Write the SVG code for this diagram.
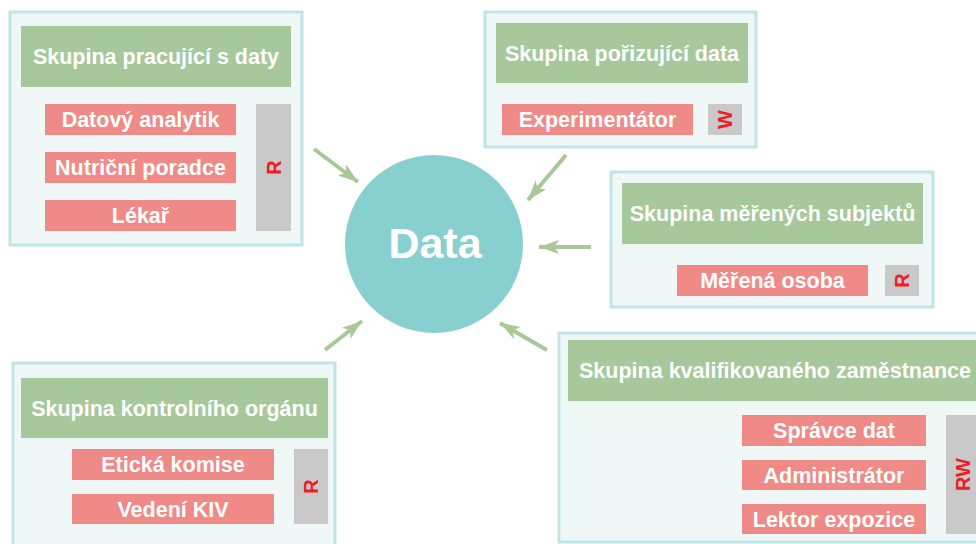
<svg xmlns="http://www.w3.org/2000/svg" width="976" height="544" viewBox="0 0 976 544">
<defs>
<style>
.grp{fill:#f0f8f7;stroke:#bfe5e5;stroke-width:3}
.hdr{fill:#a6c89a}
.role{fill:#f08a86}
.perm{fill:#c9c9c9}
.t{font-family:"Liberation Sans",Arial,sans-serif;font-weight:bold;fill:#ffffff;text-anchor:middle}
.h{font-size:21.5px}
.r{font-size:21.5px}
.p{font-family:"Liberation Sans",Arial,sans-serif;font-weight:bold;fill:#ee1c25;font-size:20px;text-anchor:middle}
.arr{stroke:#a8c898;stroke-width:4;fill:none}
</style>
<marker id="ah" markerUnits="userSpaceOnUse" markerWidth="22" markerHeight="16" refX="20" refY="7" orient="auto">
<path d="M0,0 L20,7 L0,14 L5,7 Z" fill="#a8c898"/>
</marker>
</defs>
<rect width="976" height="544" fill="#ffffff"/>

<g id="data">
<circle cx="434" cy="244" r="89" fill="#87d0cf"/>
<text class="t" x="435" y="258" font-size="43">Data</text>
</g>

<g id="connectors">
<line class="arr" x1="314" y1="149" x2="358" y2="182" marker-end="url(#ah)"/>
<line class="arr" x1="566" y1="155" x2="528" y2="200" marker-end="url(#ah)"/>
<line class="arr" x1="591" y1="247" x2="539" y2="247" marker-end="url(#ah)"/>
<line class="arr" x1="325" y1="350" x2="362" y2="321" marker-end="url(#ah)"/>
<line class="arr" x1="547" y1="350" x2="500" y2="323" marker-end="url(#ah)"/>
</g>

<g id="skupina-pracujici">
<rect class="grp" x="10" y="12" width="292" height="233"/>
<rect class="hdr" x="21" y="26" width="270" height="61"/>
<text class="t h" x="156" y="64">Skupina pracující s daty</text>
<rect class="role" x="45" y="104" width="191" height="31"/>
<text class="t r" x="140.5" y="127">Datový analytik</text>
<rect class="role" x="45" y="152" width="191" height="31"/>
<text class="t r" x="140.5" y="175">Nutriční poradce</text>
<rect class="role" x="45" y="200" width="191" height="31"/>
<text class="t r" x="140.5" y="223">Lékař</text>
<rect class="perm" x="256" y="104" width="35" height="127"/>
<text class="p" transform="translate(280.5,167.5) rotate(-90)">R</text>
</g>

<g id="skupina-porizujici">
<rect class="grp" x="485" y="12" width="271" height="135"/>
<rect class="hdr" x="496" y="23" width="252" height="60"/>
<text class="t h" x="622" y="61">Skupina pořizující data</text>
<rect class="role" x="502" y="104" width="191" height="31"/>
<text class="t r" x="597.5" y="127">Experimentátor</text>
<rect class="perm" x="708" y="104" width="34" height="31"/>
<text class="p" transform="translate(732,119.5) rotate(-90)">W</text>
</g>

<g id="skupina-merenych">
<rect class="grp" x="611" y="172" width="322" height="135"/>
<rect class="hdr" x="622" y="183" width="301" height="61"/>
<text class="t h" x="772.5" y="221">Skupina měřených subjektů</text>
<rect class="role" x="677" y="265" width="191" height="31"/>
<text class="t r" x="772.5" y="288">Měřená osoba</text>
<rect class="perm" x="885" y="265" width="34" height="31"/>
<text class="p" transform="translate(909,280.5) rotate(-90)">R</text>
</g>

<g id="skupina-kontrolniho">
<rect class="grp" x="13" y="363" width="322" height="200"/>
<rect class="hdr" x="21" y="378" width="307" height="60"/>
<text class="t h" x="174.5" y="416">Skupina kontrolního orgánu</text>
<rect class="role" x="72" y="449" width="202" height="31"/>
<text class="t r" x="173" y="472">Etická komise</text>
<rect class="role" x="72" y="494" width="202" height="30"/>
<text class="t r" x="173" y="516.5">Vedení KIV</text>
<rect class="perm" x="294" y="449" width="34" height="75"/>
<text class="p" transform="translate(318,486.5) rotate(-90)">R</text>
</g>

<g id="skupina-kvalifikovaneho">
<rect class="grp" x="559" y="333" width="440" height="209"/>
<rect class="hdr" x="568" y="340" width="414" height="61"/>
<text class="t h" x="775" y="378">Skupina kvalifikovaného zaměstnance</text>
<rect class="role" x="742" y="415" width="184" height="31"/>
<text class="t r" x="834" y="438">Správce dat</text>
<rect class="role" x="742" y="460" width="184" height="30"/>
<text class="t r" x="834" y="482.5">Administrátor</text>
<rect class="role" x="742" y="504" width="184" height="30"/>
<text class="t r" x="834" y="526.5">Lektor expozice</text>
<rect class="perm" x="946" y="415" width="36" height="119"/>
<text class="p" transform="translate(970,474.5) rotate(-90)">RW</text>
</g>
</svg>
